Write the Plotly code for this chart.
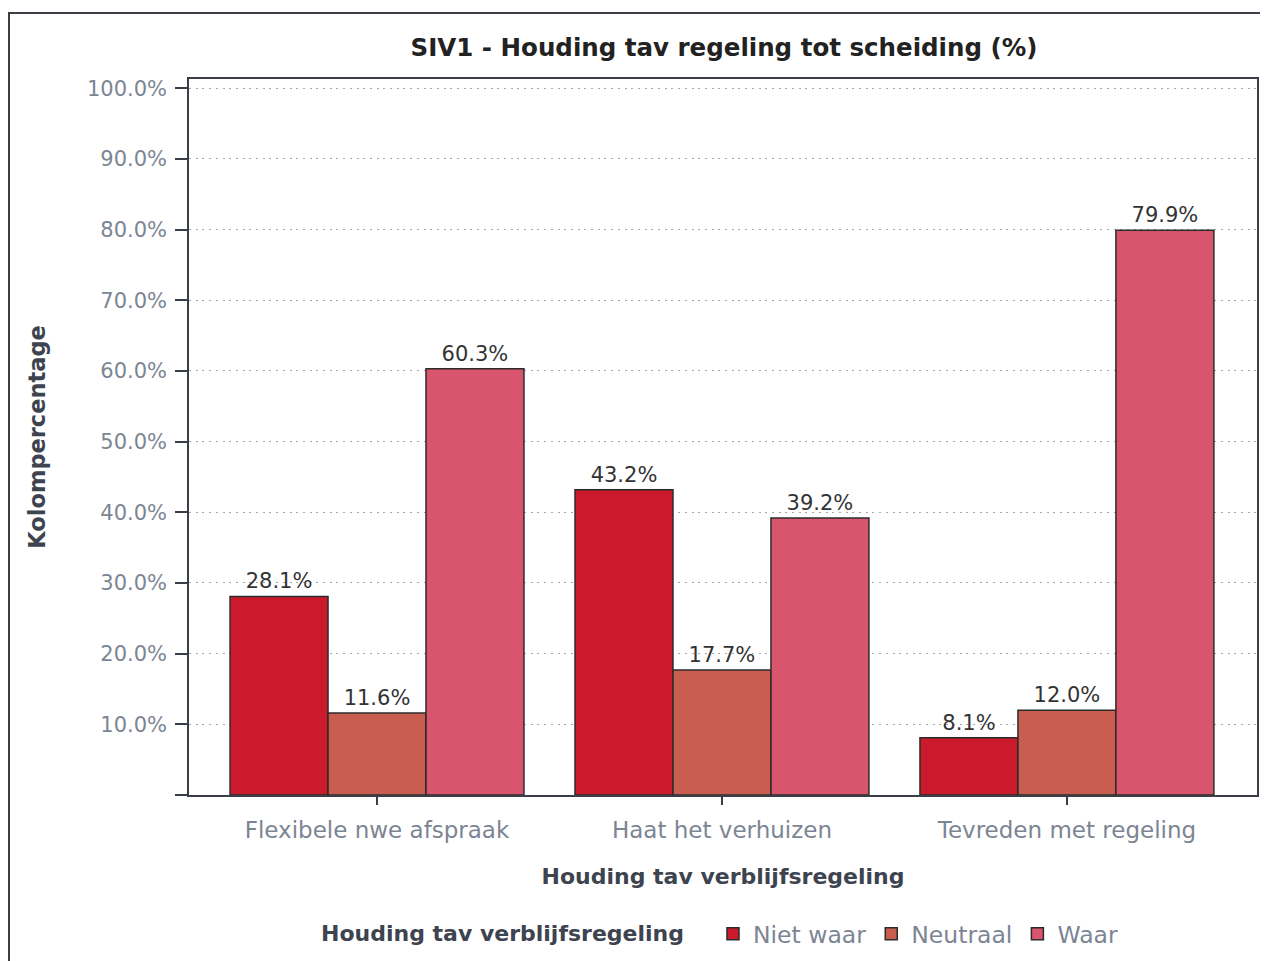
import plotly.graph_objects as go

categories = ["Flexibele nwe afspraak", "Haat het verhuizen", "Tevreden met regeling"]
series_names = ["Niet waar", "Neutraal", "Waar"]
niet_waar = [28.1, 43.2, 8.1]
neutraal = [11.6, 17.7, 12.0]
waar = [60.3, 39.2, 79.9]
y_ticks = [0, 10, 20, 30, 40, 50, 60, 70, 80, 90, 100]
y_tick_labels = [""] + [f"{v:.1f}%" for v in y_ticks[1:]]

colors = ["#CA1A2C", "#C95D4F", "#D8556D"]
FONT = "DejaVu Sans, sans-serif"

# page has an 8px body margin: figure-local coords = screen coords - 8
W, H = 1252, 953
PL, PR, PT, PB = 181, 1249, 71, 787   # plot area in figure-local px

fig = go.Figure()
for name, vals, col in zip(series_names, [niet_waar, neutraal, waar], colors):
    fig.add_trace(go.Bar(
        x=categories, y=vals, name=name,
        marker=dict(color=col, line=dict(color="#2b2b2b", width=1.5)),
        text=[f"{v:.1f}%" for v in vals], textposition="outside",
        textfont=dict(size=21, color="#333333", family=FONT),
        cliponaxis=False,
    ))

fig.update_layout(
    width=W, height=H,
    barmode="group", bargap=0.148, bargroupgap=0,
    paper_bgcolor="white", plot_bgcolor="white",
    margin=dict(l=PL, r=W - PR, t=PT, b=H - PB, autoexpand=False),
    font=dict(family=FONT, color="#7c8593", size=21),
    title=dict(text="<b>SIV1 - Houding tav regeling tot scheiding (%)</b>",
               x=(724 - 8) / W, xanchor="center", y=1 - (47 - 8) / H, yanchor="middle",
               font=dict(size=24.5, color="#222222", family=FONT)),
    legend=dict(orientation="h", x=(721 - 8 - PL) / (PR - PL), xanchor="center",
                y=(PB - (934 - 8)) / (PB - PT), yanchor="middle",
                title=dict(text="<b>Houding tav verblijfsregeling</b>&nbsp;&nbsp;&nbsp;",
                           font=dict(size=22, color="#3d4450", family=FONT)),
                font=dict(size=23.5, color="#7c8593", family=FONT),
                itemwidth=30, traceorder="normal"),
    showlegend=True,
)

fig.update_xaxes(
    range=[-0.545, 2.551],
    showline=True, linecolor="#3a3f47", linewidth=1.5, mirror=True,
    ticks="outside", ticklen=8, tickcolor="#3a3f47", tickwidth=1.5,
    tickfont=dict(size=23, color="#7c8593"), ticklabelstandoff=6,
    title=dict(text="<b>Houding tav verblijfsregeling</b>", standoff=26,
               font=dict(size=22, color="#3d4450")),
    showgrid=False,
)
fig.update_yaxes(
    range=[0, 101.3],
    tickvals=y_ticks, ticktext=y_tick_labels,
    showline=True, linecolor="#3a3f47", linewidth=1.5, mirror=True,
    ticks="outside", ticklen=12, tickcolor="#3a3f47", tickwidth=1.5,
    tickfont=dict(size=21, color="#7c8593"), ticklabelstandoff=4,
    showgrid=True, gridcolor="#a3a8b0", griddash="2px,4.7px", gridwidth=1.2,
    zeroline=False,
    title=dict(text="<b>Kolompercentage</b>", standoff=35,
               font=dict(size=22.5, color="#3d4450")),
)

# outer frame (left edge as far left as the figure allows)
fig.add_shape(type="rect", xref="paper", yref="paper",
              x0=(1 - PL) / (PR - PL), x1=(1400 - PL) / (PR - PL),
              y0=(PB - 1100) / (PB - PT), y1=(PB - (13 - 8)) / (PB - PT),
              line=dict(color="#3a3f47", width=2), layer="below")

fig.write_html("out.html")
